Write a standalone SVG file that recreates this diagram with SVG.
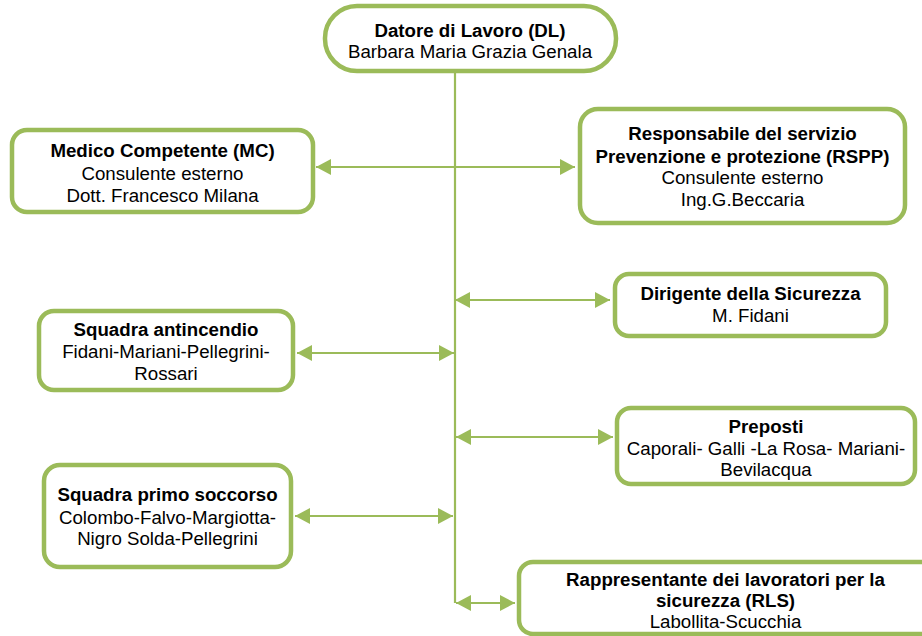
<svg xmlns="http://www.w3.org/2000/svg" width="922" height="636" viewBox="0 0 922 636">
<style>
.box{fill:#ffffff;stroke:#9BBB59;stroke-width:4.5}
.con{stroke:#9BBB59;stroke-width:2.2;fill:none}
text{font-family:"Liberation Sans",Arial,sans-serif;font-size:18.7px;fill:#000;text-anchor:middle}
.b{font-weight:bold}
</style>
<defs>
<marker id="ah" markerUnits="userSpaceOnUse" viewBox="0 0 15 16" markerWidth="15" markerHeight="16" refX="15" refY="8" orient="auto-start-reverse">
<path d="M0,0 L15,8 L0,16 z" fill="#9BBB59"/>
</marker>
</defs>
<rect width="922" height="636" fill="#ffffff"/>
<g id="connectors">
<line class="con" x1="455" y1="71" x2="455" y2="603"/>
<line class="con" x1="316" y1="167" x2="575" y2="167" marker-start="url(#ah)" marker-end="url(#ah)"/>
<line class="con" x1="455" y1="300" x2="610" y2="300" marker-start="url(#ah)" marker-end="url(#ah)"/>
<line class="con" x1="297" y1="353" x2="454" y2="353" marker-start="url(#ah)" marker-end="url(#ah)"/>
<line class="con" x1="456" y1="437" x2="613" y2="437" marker-start="url(#ah)" marker-end="url(#ah)"/>
<line class="con" x1="295" y1="516" x2="453" y2="516" marker-start="url(#ah)" marker-end="url(#ah)"/>
<line class="con" x1="456" y1="603" x2="515" y2="603" marker-start="url(#ah)" marker-end="url(#ah)"/>
</g>
<g id="node-dl">
<rect class="box" x="325" y="6" width="291" height="65" rx="32" ry="32"/>
<text class="b" x="470" y="37">Datore di Lavoro (DL)</text>
<text x="470" y="58">Barbara Maria Grazia Genala</text>
</g>
<g id="node-mc">
<rect class="box" x="12" y="130" width="301" height="82" rx="15" ry="15"/>
<text class="b" x="162.5" y="157">Medico Competente (MC)</text>
<text x="162.5" y="179.5">Consulente esterno</text>
<text x="162.5" y="202">Dott. Francesco Milana</text>
</g>
<g id="node-rspp">
<rect class="box" x="580" y="109" width="325" height="114" rx="18" ry="18"/>
<text class="b" x="742.5" y="139.5">Responsabile del servizio</text>
<text class="b" x="742.5" y="162.5">Prevenzione e protezione (RSPP)</text>
<text x="742.5" y="184">Consulente esterno</text>
<text x="742.5" y="205.5">Ing.G.Beccaria</text>
</g>
<g id="node-dirigente">
<rect class="box" x="615" y="274" width="271" height="62" rx="14" ry="14"/>
<text class="b" x="750.5" y="299.5">Dirigente della Sicurezza</text>
<text x="750.5" y="322">M. Fidani</text>
</g>
<g id="node-antincendio">
<rect class="box" x="39" y="311" width="254" height="79" rx="15" ry="15"/>
<text class="b" x="166" y="335.5">Squadra antincendio</text>
<text x="166" y="358">Fidani-Mariani-Pellegrini-</text>
<text x="166" y="380">Rossari</text>
</g>
<g id="node-preposti">
<rect class="box" x="617" y="408" width="298" height="76" rx="14" ry="14"/>
<text class="b" x="766" y="432.5">Preposti</text>
<text x="766" y="454.5">Caporali- Galli -La Rosa- Mariani-</text>
<text x="766" y="476">Bevilacqua</text>
</g>
<g id="node-primosoccorso">
<rect class="box" x="44" y="465" width="247" height="102" rx="16" ry="16"/>
<text class="b" x="167.5" y="501">Squadra primo soccorso</text>
<text x="167.5" y="524">Colombo-Falvo-Margiotta-</text>
<text x="167.5" y="545">Nigro Solda-Pellegrini</text>
</g>
<g id="node-rls">
<rect class="box" x="519" y="562" width="420" height="72" rx="14" ry="14"/>
<text class="b" x="725.5" y="585.5">Rappresentante dei lavoratori per la</text>
<text class="b" x="725.5" y="607">sicurezza (RLS)</text>
<text x="725.5" y="628">Labollita-Scucchia</text>
</g>
</svg>
